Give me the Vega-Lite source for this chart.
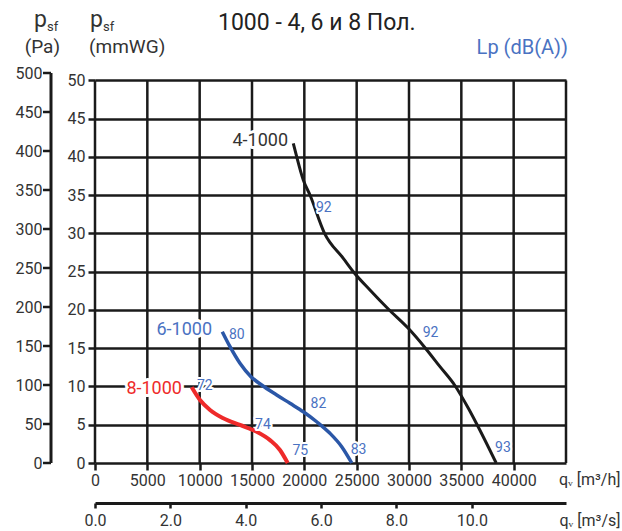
{
  "$schema": "https://vega.github.io/schema/vega-lite/v6.json",
  "width": 471,
  "height": 390,
  "autosize": {"type": "none"},
  "padding": {"left": 95, "top": 73, "right": 56, "bottom": 68},
  "background": "white",
  "config": {"font": "Roboto", "view": {"stroke": null}},
  "datasets": {
    "grid": [{"q": 0}, {"q": 5000}, {"q": 10000}, {"q": 15000}, {"q": 20000}, {"q": 25000}, {"q": 30000}, {"q": 35000}, {"q": 40000}, {"q": 45000}],
    "patick": [{"pa": 0}, {"pa": 50}, {"pa": 100}, {"pa": 150}, {"pa": 200}, {"pa": 250}, {"pa": 300}, {"pa": 350}, {"pa": 400}, {"pa": 450}, {"pa": 500}],
    "curves": [
      {"curve": "4-1000", "q": 18945, "p": 41.78},
      {"curve": "4-1000", "q": 19270, "p": 40.03},
      {"curve": "4-1000", "q": 19900, "p": 36.98},
      {"curve": "4-1000", "q": 20540, "p": 35.02},
      {"curve": "4-1000", "q": 21930, "p": 30.02},
      {"curve": "4-1000", "q": 23720, "p": 26.75},
      {"curve": "4-1000", "q": 24680, "p": 25.00},
      {"curve": "4-1000", "q": 26270, "p": 22.61},
      {"curve": "4-1000", "q": 28020, "p": 20.12},
      {"curve": "4-1000", "q": 29930, "p": 17.60},
      {"curve": "4-1000", "q": 31530, "p": 15.07},
      {"curve": "4-1000", "q": 32960, "p": 12.59},
      {"curve": "4-1000", "q": 34400, "p": 10.10},
      {"curve": "4-1000", "q": 35670, "p": 7.15},
      {"curve": "4-1000", "q": 36470, "p": 5.10},
      {"curve": "4-1000", "q": 38330, "p": 0},
      {"curve": "6-1000", "q": 12160, "p": 17.16},
      {"curve": "6-1000", "q": 12900, "p": 15.20},
      {"curve": "6-1000", "q": 13850, "p": 13.03},
      {"curve": "6-1000", "q": 14900, "p": 11.28},
      {"curve": "6-1000", "q": 15920, "p": 10.19},
      {"curve": "6-1000", "q": 17360, "p": 8.89},
      {"curve": "6-1000", "q": 18630, "p": 7.80},
      {"curve": "6-1000", "q": 19900, "p": 6.70},
      {"curve": "6-1000", "q": 21180, "p": 5.39},
      {"curve": "6-1000", "q": 22450, "p": 3.88},
      {"curve": "6-1000", "q": 23570, "p": 2.13},
      {"curve": "6-1000", "q": 24530, "p": 0},
      {"curve": "8-1000", "q": 9240, "p": 9.89},
      {"curve": "8-1000", "q": 10030, "p": 8.23},
      {"curve": "8-1000", "q": 10990, "p": 6.93},
      {"curve": "8-1000", "q": 12260, "p": 5.84},
      {"curve": "8-1000", "q": 13850, "p": 4.97},
      {"curve": "8-1000", "q": 15450, "p": 4.09},
      {"curve": "8-1000", "q": 16720, "p": 2.99},
      {"curve": "8-1000", "q": 17670, "p": 1.70},
      {"curve": "8-1000", "q": 18410, "p": 0}
    ],
    "lp": [
      {"q": 12800, "p": 16.73, "t": "80"},
      {"q": 9745, "p": 10.06, "t": "72"},
      {"q": 15290, "p": 4.97, "t": "74"},
      {"q": 18870, "p": 1.57, "t": "75"},
      {"q": 20590, "p": 7.65, "t": "82"},
      {"q": 24430, "p": 1.70, "t": "83"},
      {"q": 21110, "p": 33.29, "t": "92"},
      {"q": 31310, "p": 16.95, "t": "92"},
      {"q": 38220, "p": 1.92, "t": "93"}
    ],
    "names": [
      {"curve": "4-1000", "q": 18440, "p": 42.02},
      {"curve": "6-1000", "q": 11180, "p": 17.38},
      {"curve": "8-1000", "q": 8310, "p": 9.67}
    ]
  },
  "layer": [
    {
      "layer": [
        {
          "data": {"name": "grid"},
          "mark": {"type": "rule", "color": "#1a1a1a", "strokeWidth": 2.5},
          "encoding": {
            "x": {"field": "q", "type": "quantitative", "axis": null},
            "y": {"datum": 0, "type": "quantitative", "axis": null},
            "y2": {"datum": 50}
          }
        },
        {
          "data": {"values": [{}]},
          "mark": {"type": "rule", "color": "#1a1a1a", "strokeWidth": 3},
          "encoding": {
            "x": {"datum": -4204, "type": "quantitative", "axis": null},
            "y": {"datum": 0, "type": "quantitative", "axis": null},
            "y2": {"datum": 50.968}
          }
        },
        {
          "data": {"values": [{}]},
          "mark": {"type": "text", "text": "1000 - 4, 6 и 8 Пол.", "align": "left", "baseline": "alphabetic", "fontSize": 23, "color": "#222222"},
          "encoding": {
            "x": {"datum": 11750, "type": "quantitative", "axis": null},
            "y": {"datum": 56.65, "type": "quantitative", "axis": null}
          }
        },
        {
          "data": {"values": [{}]},
          "mark": {"type": "text", "text": "Lp (dB(A))", "align": "right", "baseline": "alphabetic", "fontSize": 20, "color": "#4a72c2"},
          "encoding": {
            "x": {"datum": 45190, "type": "quantitative", "axis": null},
            "y": {"datum": 53.45, "type": "quantitative", "axis": null}
          }
        },
        {
          "data": {"values": [{}]},
          "mark": {"type": "text", "text": "p", "align": "left", "baseline": "alphabetic", "fontSize": 23, "color": "#333333"},
          "encoding": {
            "x": {"datum": -5828, "type": "quantitative", "axis": null},
            "y": {"datum": 56.98, "type": "quantitative", "axis": null}
          }
        },
        {
          "data": {"values": [{}]},
          "mark": {"type": "text", "text": "p", "align": "left", "baseline": "alphabetic", "fontSize": 23, "color": "#333333"},
          "encoding": {
            "x": {"datum": -478, "type": "quantitative", "axis": null},
            "y": {"datum": 56.98, "type": "quantitative", "axis": null}
          }
        },
        {
          "data": {"values": [{}]},
          "mark": {"type": "text", "text": "sf", "align": "left", "baseline": "alphabetic", "fontSize": 13, "color": "#333333"},
          "encoding": {
            "x": {"datum": -4586, "type": "quantitative", "axis": null},
            "y": {"datum": 56.46, "type": "quantitative", "axis": null}
          }
        },
        {
          "data": {"values": [{}]},
          "mark": {"type": "text", "text": "sf", "align": "left", "baseline": "alphabetic", "fontSize": 13, "color": "#333333"},
          "encoding": {
            "x": {"datum": 764, "type": "quantitative", "axis": null},
            "y": {"datum": 56.46, "type": "quantitative", "axis": null}
          }
        },
        {
          "data": {"values": [{}]},
          "mark": {"type": "text", "text": "(Pa)", "align": "right", "baseline": "alphabetic", "fontSize": 19, "color": "#333333"},
          "encoding": {
            "x": {"datum": -3344, "type": "quantitative", "axis": null},
            "y": {"datum": 53.58, "type": "quantitative", "axis": null}
          }
        },
        {
          "data": {"values": [{}]},
          "mark": {"type": "text", "text": "(mmWG)", "align": "left", "baseline": "alphabetic", "fontSize": 19, "color": "#333333"},
          "encoding": {
            "x": {"datum": -573, "type": "quantitative", "axis": null},
            "y": {"datum": 53.58, "type": "quantitative", "axis": null}
          }
        }
      ],
      "encoding": {
        "x": {"scale": {"domain": [0, 45000], "nice": false, "zero": false}},
        "y": {"scale": {"domain": [0, 50.968], "nice": false, "zero": false}}
      }
    },
    {
      "encoding": {
        "x": {
          "field": "q", "type": "quantitative",
          "scale": {"domain": [0, 45000], "nice": false, "zero": false},
          "axis": {
            "orient": "bottom", "values": [0, 5000, 10000, 15000, 20000, 25000, 30000, 35000, 40000], "format": "d",
            "grid": false, "domain": false, "tickColor": "#1a1a1a", "tickWidth": 2.5, "tickSize": 7,
            "labelFontSize": 16, "labelColor": "#333333", "labelPadding": 2, "labelFlush": false, "labelOverlap": false,
            "title": "qᵥ [m³/h]", "titleFontSize": 16, "titleFontWeight": "normal", "titleColor": "#333333",
            "titleX": 525, "titleY": 16, "titleAlign": "right", "titleBaseline": "middle", "titleAngle": 0
          }
        },
        "y": {
          "field": "p", "type": "quantitative",
          "scale": {"domain": [0, 50.968], "nice": false, "zero": false},
          "axis": {
            "orient": "left", "values": [0, 5, 10, 15, 20, 25, 30, 35, 40, 45, 50], "format": "d",
            "grid": true, "gridColor": "#1a1a1a", "gridWidth": 2.5, "gridOpacity": 1,
            "domain": false, "tickColor": "#1a1a1a", "tickWidth": 2.5, "tickSize": 7,
            "labelFontSize": 16, "labelColor": "#333333", "labelPadding": 3, "labelOverlap": false,
            "title": ""
          }
        }
      },
      "layer": [
        {
          "data": {"name": "curves"},
          "mark": {"type": "line", "interpolate": "monotone"},
          "encoding": {
            "color": {"field": "curve", "type": "nominal", "scale": {"domain": ["4-1000", "6-1000", "8-1000"], "range": ["#1a1a1a", "#2b57a7", "#ee2a2a"]}, "legend": null},
            "strokeWidth": {"field": "curve", "type": "nominal", "scale": {"domain": ["4-1000", "6-1000", "8-1000"], "range": [3, 4, 4]}, "legend": null}
          }
        },
        {
          "data": {"name": "lp"},
          "mark": {"type": "text", "align": "left", "baseline": "middle", "fontSize": 14, "fill": "white", "stroke": "white", "strokeWidth": 4, "strokeJoin": "round"},
          "encoding": {"text": {"field": "t"}}
        },
        {
          "data": {"name": "lp"},
          "mark": {"type": "text", "align": "left", "baseline": "middle", "fontSize": 14, "color": "#4a72c2"},
          "encoding": {"text": {"field": "t"}}
        },
        {
          "data": {"name": "names"},
          "mark": {"type": "text", "align": "right", "baseline": "middle", "fontSize": 18, "fill": "white", "stroke": "white", "strokeWidth": 6, "strokeJoin": "round"},
          "encoding": {"text": {"field": "curve"}}
        },
        {
          "data": {"name": "names"},
          "mark": {"type": "text", "align": "right", "baseline": "middle", "fontSize": 18},
          "encoding": {
            "text": {"field": "curve"},
            "fill": {"field": "curve", "type": "nominal", "scale": {"domain": ["4-1000", "6-1000", "8-1000"], "range": ["#333333", "#4a72c2", "#ee2a2a"]}, "legend": null}
          }
        }
      ]
    },
    {
      "data": {"name": "patick"},
      "mark": {"type": "rule", "color": "#1a1a1a", "strokeWidth": 2.5},
      "encoding": {
        "x": {"datum": -4204, "type": "quantitative", "scale": {"domain": [0, 45000], "nice": false, "zero": false}, "axis": null},
        "x2": {"datum": -4968},
        "y": {
          "field": "pa", "type": "quantitative",
          "scale": {"domain": [0, 500], "nice": false},
          "axis": {
            "orient": "left", "offset": 44, "values": [0, 50, 100, 150, 200, 250, 300, 350, 400, 450, 500], "format": "d",
            "grid": false, "domain": false, "ticks": false,
            "labelFontSize": 16, "labelColor": "#333333", "labelPadding": 9, "labelOverlap": false, "labelFlush": false,
            "title": ""
          }
        }
      }
    },
    {
      "data": {"values": [{"ms": 0}, {"ms": 12.5}]},
      "mark": {"type": "point", "opacity": 0},
      "encoding": {
        "x": {
          "field": "ms", "type": "quantitative",
          "scale": {"domain": [0, 12.5], "nice": false},
          "axis": {
            "orient": "bottom", "offset": 40, "values": [0, 2, 4, 6, 8, 10], "format": ".1f",
            "grid": false, "domain": true, "domainColor": "#1a1a1a", "domainWidth": 3,
            "ticks": true, "tickColor": "#1a1a1a", "tickWidth": 2.5, "tickSize": 5,
            "labelFontSize": 16, "labelColor": "#333333", "labelPadding": 4, "labelFlush": false, "labelOverlap": false,
            "title": "qᵥ [m³/s]", "titleFontSize": 16, "titleFontWeight": "normal", "titleColor": "#333333",
            "titleX": 525, "titleY": 17, "titleAlign": "right", "titleBaseline": "middle", "titleAngle": 0
          }
        }
      }
    }
  ],
  "resolve": {"scale": {"x": "independent", "y": "independent"}}
}
